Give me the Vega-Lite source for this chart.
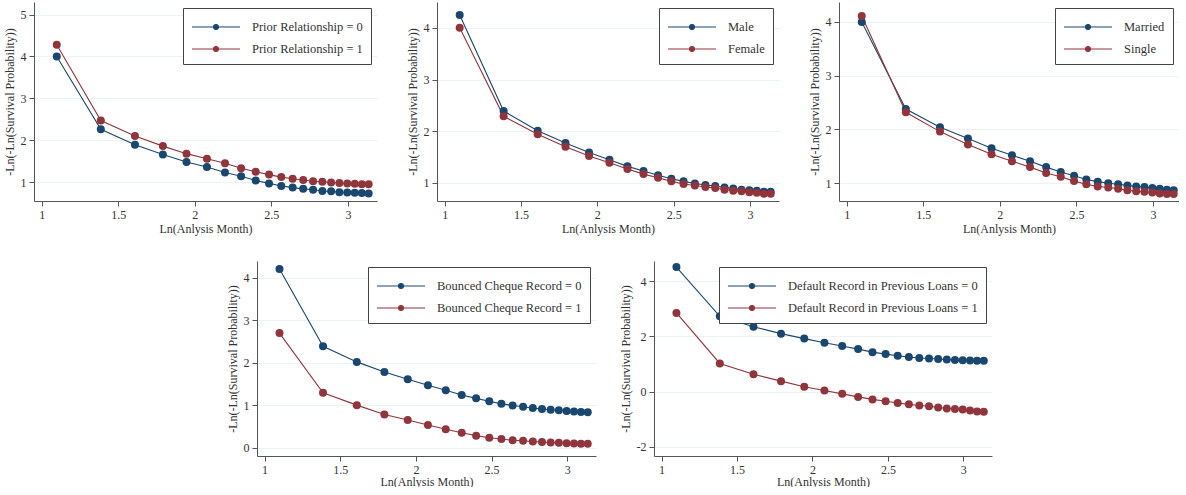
{
"$schema": "https://vega.github.io/schema/vega-lite/v6.json",
"background": "white",
"padding": {"left": 3, "top": 2, "right": 0, "bottom": 0},
"config": {
  "view": {"stroke": null},
  "font": "Times New Roman",
  "axis": {"labelFont": "Times New Roman", "titleFont": "Times New Roman", "labelFontSize": 12, "titleFontSize": 12, "titleFontWeight": "normal", "labelColor": "#333", "titleColor": "#333", "domainColor": "#555", "tickColor": "#555", "tickSize": 5, "gridColor": "#edf2f4", "labelPadding": 3},
  "legend": {"orient": "top-right", "offset": 6, "title": null, "strokeColor": "#444", "fillColor": "white", "padding": 8, "labelFont": "Times New Roman", "labelFontSize": 12.5, "labelColor": "#333", "labelLimit": 400, "symbolType": "M-1,0H3.8M1.15,0a0.25,0.25 0 1,0 0.5,0a0.25,0.25 0 1,0 -0.5,0", "symbolSize": 400, "symbolStrokeWidth": 1.2, "labelOffset": 39, "rowPadding": 4},
  "line": {"strokeWidth": 1.1},
  "point": {"filled": true, "size": 64, "opacity": 1}
},
"datasets": {
  "p1": [
    {"x": 1.0986, "y": 4.0, "g": "Prior Relationship = 0"},
    {"x": 1.3863, "y": 2.26, "g": "Prior Relationship = 0"},
    {"x": 1.6094, "y": 1.89, "g": "Prior Relationship = 0"},
    {"x": 1.7918, "y": 1.66, "g": "Prior Relationship = 0"},
    {"x": 1.9459, "y": 1.48, "g": "Prior Relationship = 0"},
    {"x": 2.0794, "y": 1.36, "g": "Prior Relationship = 0"},
    {"x": 2.1972, "y": 1.23, "g": "Prior Relationship = 0"},
    {"x": 2.3026, "y": 1.14, "g": "Prior Relationship = 0"},
    {"x": 2.3979, "y": 1.04, "g": "Prior Relationship = 0"},
    {"x": 2.4849, "y": 0.97, "g": "Prior Relationship = 0"},
    {"x": 2.5649, "y": 0.91, "g": "Prior Relationship = 0"},
    {"x": 2.6391, "y": 0.87, "g": "Prior Relationship = 0"},
    {"x": 2.7081, "y": 0.84, "g": "Prior Relationship = 0"},
    {"x": 2.7726, "y": 0.82, "g": "Prior Relationship = 0"},
    {"x": 2.8332, "y": 0.79, "g": "Prior Relationship = 0"},
    {"x": 2.8904, "y": 0.78, "g": "Prior Relationship = 0"},
    {"x": 2.9444, "y": 0.76, "g": "Prior Relationship = 0"},
    {"x": 2.9957, "y": 0.75, "g": "Prior Relationship = 0"},
    {"x": 3.0445, "y": 0.745, "g": "Prior Relationship = 0"},
    {"x": 3.091, "y": 0.74, "g": "Prior Relationship = 0"},
    {"x": 3.1355, "y": 0.73, "g": "Prior Relationship = 0"},
    {"x": 1.0986, "y": 4.28, "g": "Prior Relationship = 1"},
    {"x": 1.3863, "y": 2.47, "g": "Prior Relationship = 1"},
    {"x": 1.6094, "y": 2.10, "g": "Prior Relationship = 1"},
    {"x": 1.7918, "y": 1.86, "g": "Prior Relationship = 1"},
    {"x": 1.9459, "y": 1.68, "g": "Prior Relationship = 1"},
    {"x": 2.0794, "y": 1.56, "g": "Prior Relationship = 1"},
    {"x": 2.1972, "y": 1.45, "g": "Prior Relationship = 1"},
    {"x": 2.3026, "y": 1.33, "g": "Prior Relationship = 1"},
    {"x": 2.3979, "y": 1.25, "g": "Prior Relationship = 1"},
    {"x": 2.4849, "y": 1.18, "g": "Prior Relationship = 1"},
    {"x": 2.5649, "y": 1.12, "g": "Prior Relationship = 1"},
    {"x": 2.6391, "y": 1.08, "g": "Prior Relationship = 1"},
    {"x": 2.7081, "y": 1.05, "g": "Prior Relationship = 1"},
    {"x": 2.7726, "y": 1.02, "g": "Prior Relationship = 1"},
    {"x": 2.8332, "y": 1.01, "g": "Prior Relationship = 1"},
    {"x": 2.8904, "y": 0.99, "g": "Prior Relationship = 1"},
    {"x": 2.9444, "y": 0.98, "g": "Prior Relationship = 1"},
    {"x": 2.9957, "y": 0.97, "g": "Prior Relationship = 1"},
    {"x": 3.0445, "y": 0.96, "g": "Prior Relationship = 1"},
    {"x": 3.091, "y": 0.95, "g": "Prior Relationship = 1"},
    {"x": 3.1355, "y": 0.95, "g": "Prior Relationship = 1"}
  ],
  "p2": [
    {"x": 1.0986, "y": 4.25, "g": "Male"},
    {"x": 1.3863, "y": 2.39, "g": "Male"},
    {"x": 1.6094, "y": 2.01, "g": "Male"},
    {"x": 1.7918, "y": 1.77, "g": "Male"},
    {"x": 1.9459, "y": 1.59, "g": "Male"},
    {"x": 2.0794, "y": 1.45, "g": "Male"},
    {"x": 2.1972, "y": 1.32, "g": "Male"},
    {"x": 2.3026, "y": 1.23, "g": "Male"},
    {"x": 2.3979, "y": 1.15, "g": "Male"},
    {"x": 2.4849, "y": 1.08, "g": "Male"},
    {"x": 2.5649, "y": 1.03, "g": "Male"},
    {"x": 2.6391, "y": 0.99, "g": "Male"},
    {"x": 2.7081, "y": 0.96, "g": "Male"},
    {"x": 2.7726, "y": 0.94, "g": "Male"},
    {"x": 2.8332, "y": 0.91, "g": "Male"},
    {"x": 2.8904, "y": 0.89, "g": "Male"},
    {"x": 2.9444, "y": 0.87, "g": "Male"},
    {"x": 2.9957, "y": 0.86, "g": "Male"},
    {"x": 3.0445, "y": 0.85, "g": "Male"},
    {"x": 3.091, "y": 0.83, "g": "Male"},
    {"x": 3.1355, "y": 0.83, "g": "Male"},
    {"x": 1.0986, "y": 4.0, "g": "Female"},
    {"x": 1.3863, "y": 2.29, "g": "Female"},
    {"x": 1.6094, "y": 1.94, "g": "Female"},
    {"x": 1.7918, "y": 1.70, "g": "Female"},
    {"x": 1.9459, "y": 1.52, "g": "Female"},
    {"x": 2.0794, "y": 1.39, "g": "Female"},
    {"x": 2.1972, "y": 1.27, "g": "Female"},
    {"x": 2.3026, "y": 1.17, "g": "Female"},
    {"x": 2.3979, "y": 1.10, "g": "Female"},
    {"x": 2.4849, "y": 1.03, "g": "Female"},
    {"x": 2.5649, "y": 0.98, "g": "Female"},
    {"x": 2.6391, "y": 0.95, "g": "Female"},
    {"x": 2.7081, "y": 0.92, "g": "Female"},
    {"x": 2.7726, "y": 0.90, "g": "Female"},
    {"x": 2.8332, "y": 0.87, "g": "Female"},
    {"x": 2.8904, "y": 0.85, "g": "Female"},
    {"x": 2.9444, "y": 0.84, "g": "Female"},
    {"x": 2.9957, "y": 0.82, "g": "Female"},
    {"x": 3.0445, "y": 0.81, "g": "Female"},
    {"x": 3.091, "y": 0.79, "g": "Female"},
    {"x": 3.1355, "y": 0.79, "g": "Female"}
  ],
  "p3": [
    {"x": 1.0986, "y": 4.0, "g": "Married"},
    {"x": 1.3863, "y": 2.38, "g": "Married"},
    {"x": 1.6094, "y": 2.04, "g": "Married"},
    {"x": 1.7918, "y": 1.83, "g": "Married"},
    {"x": 1.9459, "y": 1.65, "g": "Married"},
    {"x": 2.0794, "y": 1.52, "g": "Married"},
    {"x": 2.1972, "y": 1.41, "g": "Married"},
    {"x": 2.3026, "y": 1.30, "g": "Married"},
    {"x": 2.3979, "y": 1.21, "g": "Married"},
    {"x": 2.4849, "y": 1.14, "g": "Married"},
    {"x": 2.5649, "y": 1.07, "g": "Married"},
    {"x": 2.6391, "y": 1.03, "g": "Married"},
    {"x": 2.7081, "y": 1.0, "g": "Married"},
    {"x": 2.7726, "y": 0.98, "g": "Married"},
    {"x": 2.8332, "y": 0.96, "g": "Married"},
    {"x": 2.8904, "y": 0.94, "g": "Married"},
    {"x": 2.9444, "y": 0.93, "g": "Married"},
    {"x": 2.9957, "y": 0.91, "g": "Married"},
    {"x": 3.0445, "y": 0.90, "g": "Married"},
    {"x": 3.091, "y": 0.88, "g": "Married"},
    {"x": 3.1355, "y": 0.87, "g": "Married"},
    {"x": 1.0986, "y": 4.11, "g": "Single"},
    {"x": 1.3863, "y": 2.32, "g": "Single"},
    {"x": 1.6094, "y": 1.96, "g": "Single"},
    {"x": 1.7918, "y": 1.72, "g": "Single"},
    {"x": 1.9459, "y": 1.54, "g": "Single"},
    {"x": 2.0794, "y": 1.41, "g": "Single"},
    {"x": 2.1972, "y": 1.30, "g": "Single"},
    {"x": 2.3026, "y": 1.19, "g": "Single"},
    {"x": 2.3979, "y": 1.12, "g": "Single"},
    {"x": 2.4849, "y": 1.04, "g": "Single"},
    {"x": 2.5649, "y": 0.98, "g": "Single"},
    {"x": 2.6391, "y": 0.94, "g": "Single"},
    {"x": 2.7081, "y": 0.92, "g": "Single"},
    {"x": 2.7726, "y": 0.90, "g": "Single"},
    {"x": 2.8332, "y": 0.87, "g": "Single"},
    {"x": 2.8904, "y": 0.85, "g": "Single"},
    {"x": 2.9444, "y": 0.84, "g": "Single"},
    {"x": 2.9957, "y": 0.83, "g": "Single"},
    {"x": 3.0445, "y": 0.81, "g": "Single"},
    {"x": 3.091, "y": 0.80, "g": "Single"},
    {"x": 3.1355, "y": 0.80, "g": "Single"}
  ],
  "p4": [
    {"x": 1.0986, "y": 4.21, "g": "Bounced Cheque Record = 0"},
    {"x": 1.3863, "y": 2.39, "g": "Bounced Cheque Record = 0"},
    {"x": 1.6094, "y": 2.02, "g": "Bounced Cheque Record = 0"},
    {"x": 1.7918, "y": 1.78, "g": "Bounced Cheque Record = 0"},
    {"x": 1.9459, "y": 1.61, "g": "Bounced Cheque Record = 0"},
    {"x": 2.0794, "y": 1.47, "g": "Bounced Cheque Record = 0"},
    {"x": 2.1972, "y": 1.35, "g": "Bounced Cheque Record = 0"},
    {"x": 2.3026, "y": 1.24, "g": "Bounced Cheque Record = 0"},
    {"x": 2.3979, "y": 1.16, "g": "Bounced Cheque Record = 0"},
    {"x": 2.4849, "y": 1.09, "g": "Bounced Cheque Record = 0"},
    {"x": 2.5649, "y": 1.03, "g": "Bounced Cheque Record = 0"},
    {"x": 2.6391, "y": 0.99, "g": "Bounced Cheque Record = 0"},
    {"x": 2.7081, "y": 0.96, "g": "Bounced Cheque Record = 0"},
    {"x": 2.7726, "y": 0.93, "g": "Bounced Cheque Record = 0"},
    {"x": 2.8332, "y": 0.91, "g": "Bounced Cheque Record = 0"},
    {"x": 2.8904, "y": 0.89, "g": "Bounced Cheque Record = 0"},
    {"x": 2.9444, "y": 0.88, "g": "Bounced Cheque Record = 0"},
    {"x": 2.9957, "y": 0.86, "g": "Bounced Cheque Record = 0"},
    {"x": 3.0445, "y": 0.85, "g": "Bounced Cheque Record = 0"},
    {"x": 3.091, "y": 0.84, "g": "Bounced Cheque Record = 0"},
    {"x": 3.1355, "y": 0.83, "g": "Bounced Cheque Record = 0"},
    {"x": 1.0986, "y": 2.70, "g": "Bounced Cheque Record = 1"},
    {"x": 1.3863, "y": 1.29, "g": "Bounced Cheque Record = 1"},
    {"x": 1.6094, "y": 1.0, "g": "Bounced Cheque Record = 1"},
    {"x": 1.7918, "y": 0.78, "g": "Bounced Cheque Record = 1"},
    {"x": 1.9459, "y": 0.65, "g": "Bounced Cheque Record = 1"},
    {"x": 2.0794, "y": 0.53, "g": "Bounced Cheque Record = 1"},
    {"x": 2.1972, "y": 0.43, "g": "Bounced Cheque Record = 1"},
    {"x": 2.3026, "y": 0.35, "g": "Bounced Cheque Record = 1"},
    {"x": 2.3979, "y": 0.28, "g": "Bounced Cheque Record = 1"},
    {"x": 2.4849, "y": 0.23, "g": "Bounced Cheque Record = 1"},
    {"x": 2.5649, "y": 0.20, "g": "Bounced Cheque Record = 1"},
    {"x": 2.6391, "y": 0.17, "g": "Bounced Cheque Record = 1"},
    {"x": 2.7081, "y": 0.16, "g": "Bounced Cheque Record = 1"},
    {"x": 2.7726, "y": 0.14, "g": "Bounced Cheque Record = 1"},
    {"x": 2.8332, "y": 0.13, "g": "Bounced Cheque Record = 1"},
    {"x": 2.8904, "y": 0.12, "g": "Bounced Cheque Record = 1"},
    {"x": 2.9444, "y": 0.11, "g": "Bounced Cheque Record = 1"},
    {"x": 2.9957, "y": 0.10, "g": "Bounced Cheque Record = 1"},
    {"x": 3.0445, "y": 0.095, "g": "Bounced Cheque Record = 1"},
    {"x": 3.091, "y": 0.09, "g": "Bounced Cheque Record = 1"},
    {"x": 3.1355, "y": 0.09, "g": "Bounced Cheque Record = 1"}
  ],
  "p5": [
    {"x": 1.0986, "y": 4.51, "g": "Default Record in Previous Loans = 0"},
    {"x": 1.3863, "y": 2.73, "g": "Default Record in Previous Loans = 0"},
    {"x": 1.6094, "y": 2.35, "g": "Default Record in Previous Loans = 0"},
    {"x": 1.7918, "y": 2.10, "g": "Default Record in Previous Loans = 0"},
    {"x": 1.9459, "y": 1.92, "g": "Default Record in Previous Loans = 0"},
    {"x": 2.0794, "y": 1.77, "g": "Default Record in Previous Loans = 0"},
    {"x": 2.1972, "y": 1.65, "g": "Default Record in Previous Loans = 0"},
    {"x": 2.3026, "y": 1.54, "g": "Default Record in Previous Loans = 0"},
    {"x": 2.3979, "y": 1.43, "g": "Default Record in Previous Loans = 0"},
    {"x": 2.4849, "y": 1.36, "g": "Default Record in Previous Loans = 0"},
    {"x": 2.5649, "y": 1.30, "g": "Default Record in Previous Loans = 0"},
    {"x": 2.6391, "y": 1.25, "g": "Default Record in Previous Loans = 0"},
    {"x": 2.7081, "y": 1.22, "g": "Default Record in Previous Loans = 0"},
    {"x": 2.7726, "y": 1.20, "g": "Default Record in Previous Loans = 0"},
    {"x": 2.8332, "y": 1.18, "g": "Default Record in Previous Loans = 0"},
    {"x": 2.8904, "y": 1.16, "g": "Default Record in Previous Loans = 0"},
    {"x": 2.9444, "y": 1.15, "g": "Default Record in Previous Loans = 0"},
    {"x": 2.9957, "y": 1.14, "g": "Default Record in Previous Loans = 0"},
    {"x": 3.0445, "y": 1.13, "g": "Default Record in Previous Loans = 0"},
    {"x": 3.091, "y": 1.12, "g": "Default Record in Previous Loans = 0"},
    {"x": 3.1355, "y": 1.12, "g": "Default Record in Previous Loans = 0"},
    {"x": 1.0986, "y": 2.85, "g": "Default Record in Previous Loans = 1"},
    {"x": 1.3863, "y": 1.02, "g": "Default Record in Previous Loans = 1"},
    {"x": 1.6094, "y": 0.63, "g": "Default Record in Previous Loans = 1"},
    {"x": 1.7918, "y": 0.38, "g": "Default Record in Previous Loans = 1"},
    {"x": 1.9459, "y": 0.18, "g": "Default Record in Previous Loans = 1"},
    {"x": 2.0794, "y": 0.04, "g": "Default Record in Previous Loans = 1"},
    {"x": 2.1972, "y": -0.08, "g": "Default Record in Previous Loans = 1"},
    {"x": 2.3026, "y": -0.19, "g": "Default Record in Previous Loans = 1"},
    {"x": 2.3979, "y": -0.28, "g": "Default Record in Previous Loans = 1"},
    {"x": 2.4849, "y": -0.35, "g": "Default Record in Previous Loans = 1"},
    {"x": 2.5649, "y": -0.41, "g": "Default Record in Previous Loans = 1"},
    {"x": 2.6391, "y": -0.46, "g": "Default Record in Previous Loans = 1"},
    {"x": 2.7081, "y": -0.50, "g": "Default Record in Previous Loans = 1"},
    {"x": 2.7726, "y": -0.53, "g": "Default Record in Previous Loans = 1"},
    {"x": 2.8332, "y": -0.57, "g": "Default Record in Previous Loans = 1"},
    {"x": 2.8904, "y": -0.61, "g": "Default Record in Previous Loans = 1"},
    {"x": 2.9444, "y": -0.63, "g": "Default Record in Previous Loans = 1"},
    {"x": 2.9957, "y": -0.65, "g": "Default Record in Previous Loans = 1"},
    {"x": 3.0445, "y": -0.68, "g": "Default Record in Previous Loans = 1"},
    {"x": 3.091, "y": -0.72, "g": "Default Record in Previous Loans = 1"},
    {"x": 3.1355, "y": -0.73, "g": "Default Record in Previous Loans = 1"}
  ]
},
"vconcat": [
  {
    "hconcat": [
      {
        "width": 343, "height": 199,
        "data": {"name": "p1"},
        "encoding": {
          "x": {"field": "x", "type": "quantitative", "scale": {"domain": [0.95, 3.19], "nice": false, "zero": false}, "axis": {"values": [1, 1.5, 2, 2.5, 3], "format": "~g", "title": "Ln(Anlysis Month)", "grid": false, "titlePadding": 3}},
          "y": {"field": "y", "type": "quantitative", "scale": {"domain": [0.55, 5.3], "nice": false, "zero": false}, "axis": {"values": [1, 2, 3, 4, 5], "format": "~g", "title": "-Ln(-Ln(Survival Probability))", "titlePadding": 4, "grid": true}},
          "color": {"field": "g", "type": "nominal", "scale": {"domain": ["Prior Relationship = 0", "Prior Relationship = 1"], "range": ["#1a476f", "#90353b"]}}
        },
        "layer": [{"mark": "line"}, {"mark": "point"}]
      },
      {
        "width": 342, "height": 199,
        "data": {"name": "p2"},
        "encoding": {
          "x": {"field": "x", "type": "quantitative", "scale": {"domain": [0.95, 3.19], "nice": false, "zero": false}, "axis": {"values": [1, 1.5, 2, 2.5, 3], "format": "~g", "title": "Ln(Anlysis Month)", "grid": false, "titlePadding": 3}},
          "y": {"field": "y", "type": "quantitative", "scale": {"domain": [0.65, 4.5], "nice": false, "zero": false}, "axis": {"values": [1, 2, 3, 4], "format": "~g", "title": "-Ln(-Ln(Survival Probability))", "titlePadding": 4, "grid": true}},
          "color": {"field": "g", "type": "nominal", "scale": {"domain": ["Male", "Female"], "range": ["#1a476f", "#90353b"]}}
        },
        "layer": [{"mark": "line"}, {"mark": "point"}]
      },
      {
        "width": 340, "height": 199,
        "data": {"name": "p3"},
        "encoding": {
          "x": {"field": "x", "type": "quantitative", "scale": {"domain": [0.95, 3.17], "nice": false, "zero": false}, "axis": {"values": [1, 1.5, 2, 2.5, 3], "format": "~g", "title": "Ln(Anlysis Month)", "grid": false, "titlePadding": 3}},
          "y": {"field": "y", "type": "quantitative", "scale": {"domain": [0.67, 4.37], "nice": false, "zero": false}, "axis": {"values": [1, 2, 3, 4], "format": "~g", "title": "-Ln(-Ln(Survival Probability))", "titlePadding": 4, "grid": true}},
          "color": {"field": "g", "type": "nominal", "scale": {"domain": ["Married", "Single"], "range": ["#1a476f", "#90353b"]}}
        },
        "layer": [{"mark": "line"}, {"mark": "point"}]
      }
    ],
    "spacing": 29,
    "resolve": {"scale": {"color": "independent", "x": "independent", "y": "independent"}}
  },
  {
    "hconcat": [
      {
        "width": 169, "height": 195,
        "data": {"values": []},
        "mark": {"type": "point", "opacity": 0}
      },
      {
        "width": 339, "height": 195,
        "data": {"name": "p4"},
        "encoding": {
          "x": {"field": "x", "type": "quantitative", "scale": {"domain": [0.95, 3.19], "nice": false, "zero": false}, "axis": {"values": [1, 1.5, 2, 2.5, 3], "format": "~g", "title": "Ln(Anlysis Month)", "grid": false, "titlePadding": 1}},
          "y": {"field": "y", "type": "quantitative", "scale": {"domain": [-0.2, 4.4], "nice": false, "zero": false}, "axis": {"values": [0, 1, 2, 3, 4], "format": "~g", "title": "-Ln(-Ln(Survival Probability))", "titlePadding": 4, "grid": true}},
          "color": {"field": "g", "type": "nominal", "scale": {"domain": ["Bounced Cheque Record = 0", "Bounced Cheque Record = 1"], "range": ["#1a476f", "#90353b"]}}
        },
        "layer": [{"mark": "line"}, {"mark": "point"}]
      },
      {
        "width": 338, "height": 195,
        "data": {"name": "p5"},
        "encoding": {
          "x": {"field": "x", "type": "quantitative", "scale": {"domain": [0.95, 3.19], "nice": false, "zero": false}, "axis": {"values": [1, 1.5, 2, 2.5, 3], "format": "~g", "title": "Ln(Anlysis Month)", "grid": false, "titlePadding": 1}},
          "y": {"field": "y", "type": "quantitative", "scale": {"domain": [-2.33, 4.73], "nice": false, "zero": false}, "axis": {"values": [-2, 0, 2, 4], "labelExpr": "datum.value < 0 ? '-' + format(-datum.value, '~g') : format(datum.value, '~g')", "title": "-Ln(-Ln(Survival Probability))", "titlePadding": 4, "grid": true}},
          "color": {"field": "g", "type": "nominal", "scale": {"domain": ["Default Record in Previous Loans = 0", "Default Record in Previous Loans = 1"], "range": ["#1a476f", "#90353b"]}}
        },
        "layer": [{"mark": "line"}, {"mark": "point"}]
      }
    ],
    "spacing": 23,
    "resolve": {"scale": {"color": "independent", "x": "independent", "y": "independent"}}
  }
],
"spacing": 27,
"resolve": {"scale": {"color": "independent", "x": "independent", "y": "independent"}}
}
